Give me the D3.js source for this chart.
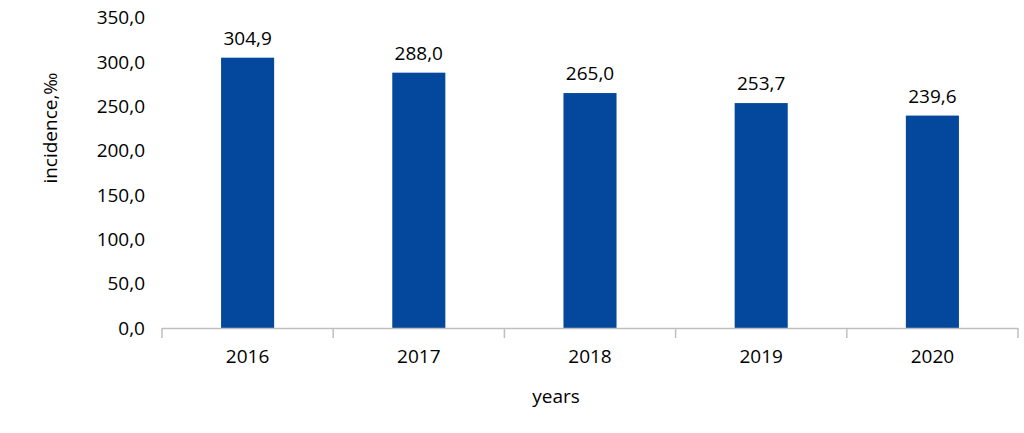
<!DOCTYPE html>
<html><head><meta charset="utf-8">
<script src="https://cdn.jsdelivr.net/npm/d3@7"></script>
<style>body{margin:0;background:#fff}svg{display:block}text{font-family:"Open Sans","Noto Sans",sans-serif;fill:#000}</style>
</head><body>
<script>
const categories = ["2016","2017","2018","2019","2020"];
const values = [304.9, 288.0, 265.0, 253.7, 239.6];
const yTicks = [0,50,100,150,200,250,300,350];
const yTitle = "incidence,‰";
const xTitle = "years";

const W=1024,H=433;
const svg=d3.select("body").append("svg").attr("width",W).attr("height",H);
const x0=162,x1=1018,yTop=17.7,yBot=328;
const x=d3.scaleBand().domain(categories).range([x0,x1]).paddingInner(0.69).paddingOuter(0.345);
const y=d3.scaleLinear().domain([0,350]).range([yBot,yTop]);
const fmt=v=>d3.format(".1f")(v).replace(".",",");

// y tick labels
svg.append("g").selectAll("text").data(yTicks).join("text")
 .attr("x",145).attr("y",d=>y(d)).attr("dy","0.35em").attr("text-anchor","end")
 .attr("font-size",19).text(fmt);

// bars
svg.append("g").selectAll("rect").data(values).join("rect")
 .attr("x",(d,i)=>x(categories[i])).attr("width",x.bandwidth())
 .attr("y",d=>y(d)).attr("height",d=>yBot-y(d)).attr("fill","#03489c");

// value labels
svg.append("g").selectAll("text").data(values).join("text")
 .attr("x",(d,i)=>x(categories[i])+x.bandwidth()/2).attr("y",d=>y(d)-13)
 .attr("text-anchor","middle").attr("font-size",19).text(fmt);

// x axis
const step=(x1-x0)/categories.length;
const ax=svg.append("g");
ax.append("line").attr("x1",x0).attr("x2",x1).attr("y1",yBot+0.5).attr("y2",yBot+0.5).attr("stroke","#bfbfbf").attr("stroke-width",1.5);
ax.selectAll("line.t").data(d3.range(categories.length+1)).join("line").attr("class","t")
 .attr("x1",i=>x0+i*step).attr("x2",i=>x0+i*step).attr("y1",yBot).attr("y2",yBot+10)
 .attr("stroke","#bfbfbf").attr("stroke-width",1.5);
ax.selectAll("text").data(categories).join("text")
 .attr("x",d=>x(d)+x.bandwidth()/2).attr("y",356).attr("dy","0.35em")
 .attr("text-anchor","middle").attr("font-size",19).text(d=>d);

svg.append("text").attr("x",556).attr("y",396).attr("dy","0.35em").attr("text-anchor","middle").attr("font-size",19).text(xTitle);
svg.append("text").attr("transform","translate(50,128) rotate(-90)").attr("dy","0.35em").attr("text-anchor","middle").attr("font-size",19).text(yTitle);
</script>
</body></html>
